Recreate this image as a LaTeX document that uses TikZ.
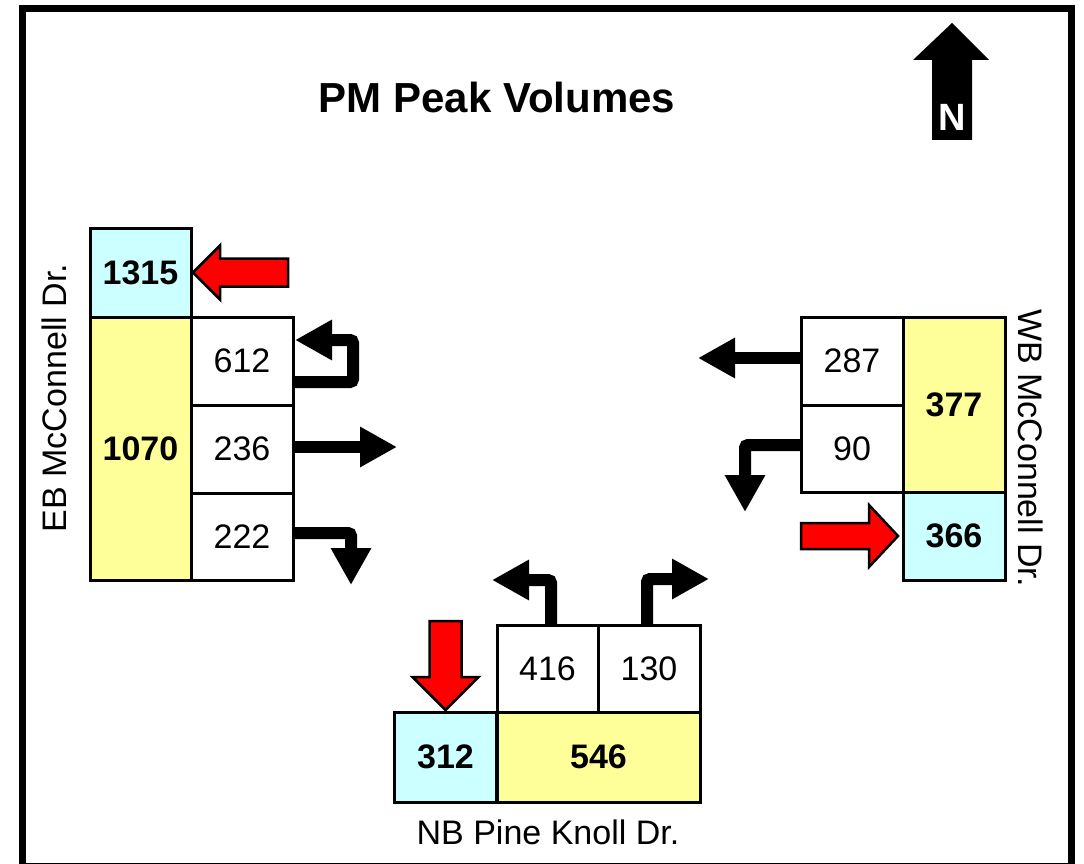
\documentclass[tikz,border=0pt]{standalone}
\usepackage{fontspec}
\setmainfont{Liberation Sans}
\usetikzlibrary{arrows.meta,calc}
\definecolor{cellblue}{HTML}{CCFFFF}
\definecolor{cellyellow}{HTML}{FFFF99}
\definecolor{arrred}{HTML}{FF0000}
\tikzset{
  cell/.style={draw=black, line width=3pt, inner sep=0pt, outer sep=0pt, fill=white,
    font=\fontsize{34}{40}\selectfont},
  totcell/.style={cell, font=\fontsize{34}{40}\selectfont\bfseries},
  blk/.style={draw=black, line width=12pt, rounded corners=3pt,
    -{Triangle[length=37pt,width=38pt]}},
  redarr/.style={draw=black, fill=arrred, line width=2.5pt, line join=miter},
  roadlbl/.style={font=\fontsize{34}{40}\selectfont, inner sep=0pt}
}
\begin{document}
\begin{tikzpicture}[x=1pt,y=-1pt]
\clip (0,0) rectangle (1084,864);
\useasboundingbox (0,0) rectangle (1084,864);
% frame
\draw[line width=7pt] (22.5,8.5) rectangle (1071.5,866);
% title
\node[font=\fontsize{42}{48}\selectfont\bfseries, inner sep=0pt] (title) at (497,97) {PM Peak Volumes};
% north arrow
\fill[black] (952,23) -- (989,60) -- (972,60) -- (972,140) -- (932,140) -- (932,60) -- (913,60) -- cycle;
\node[font=\fontsize{38}{44}\selectfont\bfseries, text=white, inner sep=0pt] (north) at (952,117) {N};

% West approach (EB McConnell Dr.)
\node[totcell, fill=cellblue, minimum width=101pt, minimum height=89pt] (b1315) at (140.5,272.5) {1315};
\node[totcell, fill=cellyellow, minimum width=101pt, minimum height=263pt] (y1070) at (140.5,448.5) {1070};
\node[cell, minimum width=102pt, minimum height=88pt] (c612) at (242,361) {612};
\node[cell, minimum width=102pt, minimum height=88pt] (c236) at (242,449) {236};
\node[cell, minimum width=102pt, minimum height=87pt] (c222) at (242,536.5) {222};
\node[roadlbl, rotate=90] (ebl) at (54,398) {EB McConnell Dr.};
\draw[redarr, shift={($(b1315.east)+(2,0)$)}] (0,0) -- (27,-27) -- (27,-14) -- (95,-14) -- (95,14) -- (27,14) -- (27,27) -- cycle;
\draw[blk] ($(c612.east)+(0,21)$) -- ++(60,0) |- ($(c612.east)+(2,-21)$);
\draw[blk] ($(c236.east)+(0,-2)$) -- ++(104,0);
\draw[blk] ($(c222.east)+(0,-3.5)$) -| ++(58,52);

% East approach (WB McConnell Dr.)
\node[cell, minimum width=102pt, minimum height=88pt] (c287) at (852,361) {287};
\node[cell, minimum width=102pt, minimum height=87pt] (c90) at (852,448.5) {90};
\node[totcell, fill=cellyellow, minimum width=102pt, minimum height=175pt] (y377) at (954,404.5) {377};
\node[totcell, fill=cellblue, minimum width=102pt, minimum height=88pt] (b366) at (954,536) {366};
\node[roadlbl, rotate=-90] (wbl) at (1031,448) {WB McConnell Dr.};
\draw[redarr, shift={($(b366.west)+(-5,0)$)}] (0,0) -- (-29,-31) -- (-29,-13) -- (-97,-13) -- (-97,13) -- (-29,13) -- (-29,31) -- cycle;
\draw[blk] ($(c287.west)+(0,-3)$) -- ++(-103,0);
\draw[blk] ($(c90.west)+(0,-3.5)$) -| ++(-56,67);

% South approach (NB Pine Knoll Dr.)
\node[cell, minimum width=101pt, minimum height=87pt] (c416) at (547.5,668.5) {416};
\node[cell, minimum width=102pt, minimum height=87pt] (c130) at (649,668.5) {130};
\node[totcell, fill=cellblue, minimum width=102pt, minimum height=90pt] (b312) at (445.5,757) {312};
\node[totcell, fill=cellyellow, minimum width=203pt, minimum height=90pt] (y546) at (598.5,757) {546};
\node[roadlbl] (nbl) at (548,832) {NB Pine Knoll Dr.};
\draw[redarr, shift={($(b312.north)+(0,-2)$)}] (0,0) -- (-33,-33) -- (-16,-33) -- (-16,-89) -- (16,-89) -- (16,-33) -- (33,-33) -- cycle;
\draw[blk] ($(c416.north)+(3.5,0)$) |- ++(-59,-45);
\draw[blk] ($(c130.north)+(-2,0)$) |- ++(62,-46);
\end{tikzpicture}
\end{document}
